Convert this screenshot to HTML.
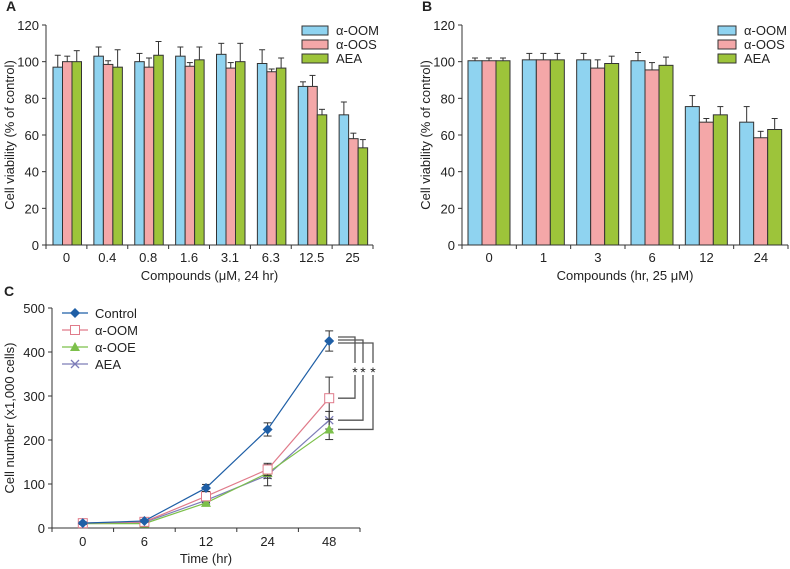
<!DOCTYPE html>
<html><head><meta charset="utf-8"><style>
body{margin:0;background:#fff}
svg{display:block;font-family:"Liberation Sans",Arial,sans-serif}
</style></head><body>
<svg id="s" width="790" height="569"></svg>
<script>
const catsA=["0","0.4","0.8","1.6","3.1","6.3","12.5","25"];
const oomA=[97,103,100,103,104,99,86.5,71];
const oomAErr=[6.5,5,4.5,5,6,7.5,2.5,7];
const oosA=[100,98.5,97,97.5,96.5,94.5,86.5,58];
const oosAErr=[3,2,5,2,3,1.5,6,3];
const aeaA=[100,97,103.5,101,100,96.5,71,53];
const aeaAErr=[6,9.5,7.5,7,10,5.5,3,4.5];
const catsB=["0","1","3","6","12","24"];
const oomB=[100.5,101,101,100.5,75.5,67];
const oomBErr=[1.5,3.5,3.5,4.5,6,8.5];
const oosB=[100.5,101,96.5,95.5,67,58.5];
const oosBErr=[1.5,3.5,4.5,4,2,3.5];
const aeaB=[100.5,101,99,98,71,63];
const aeaBErr=[1.5,3.5,4,4.5,4.5,6];
const ticksAB=[0,20,40,60,80,100,120];
const catsC=["0","6","12","24","48"];
const ctrlC=[11,16,91,224,425];const ctrlCErr=[3,3,8,15,23];
const oomC=[11,14,72,133,295];const oomCErr=[3,3,6,14,48];
const ooeC=[10,10,57,125,224];const ooeCErr=[3,3,5,12,23];
const aeaC=[11,13,63,120,245];const aeaCErr=[3,3,5,24,20];
const ticksC=[0,100,200,300,400,500];

const S=document.getElementById('s');const NS="http://www.w3.org/2000/svg";
function el(t,a,txt){const e=document.createElementNS(NS,t);for(const k in a)e.setAttribute(k,a[k]);if(txt!=null)e.textContent=txt;S.appendChild(e);return e;}
function ln(x1,y1,x2,y2,c,w){return el('line',{x1,y1,x2,y2,stroke:c||'#333','stroke-width':w||1});}
function tx(x,y,s,size,anchor,extra){const e=el('text',Object.assign({x,y,'font-size':size||13,'text-anchor':anchor||'middle',fill:'#222'},extra||{}),s);return e;}
const COL=['#8fd3f0','#f4a7a8','#9dc43a'];
const NAMES=['α-OOM','α-OOS','AEA'];

function barPanel(p){
 const {x0,x1,yTop,yBot,cats,series,errs,label,title,legX,bw,margin}=p;
 const ys=v=>yBot-(v/120)*(yBot-yTop);
 const slot=(x1-x0)/cats.length;
 let a=ln(x0,yTop,x0,yBot);
 a=ln(x0,yBot,x1,yBot);
 ticksAB.forEach(t=>{ln(x0-4,ys(t),x0,ys(t));const e=tx(x0-7,ys(t)+5,String(t),13,'end');});
 for(let i=0;i<=cats.length;i++)ln(x0+i*slot,yBot,x0+i*slot,yBot+4);
 cats.forEach((c,i)=>{
  const gx=x0+i*slot+margin;
  series.forEach((s,j)=>{
   const x=gx+j*bw,y=ys(s[i]);
   const ey=ys(s[i]+errs[j][i]);
   ln(x+bw/2,ey,x+bw/2,y);ln(x+bw/2-3,ey,x+bw/2+3,ey);
   const r=el('rect',{x,y,width:bw,height:yBot-y,fill:COL[j],stroke:'#333','stroke-width':1});
   
   
  });
  const t=tx(x0+(i+0.5)*slot,yBot+17,c,13);
 });
 let t=tx((x0+x1)/2,yBot+35,title,13);
 t=tx(0,0,'Cell viability (% of control)',13,'middle',{transform:`translate(${x0-32},${(yTop+yBot)/2}) rotate(-90)`});
 
 t=tx(x0-40,11,label,14,'start',{'font-weight':'bold'});
 NAMES.forEach((n,j)=>{
  const r=el('rect',{x:legX,y:26+j*14,width:p.legW,height:9,fill:COL[j],stroke:'#333'});
  
  const e=tx(legX+p.legW+8,35+j*14,n,13,'start');
 });
}
barPanel({x0:46,x1:373,yTop:25,yBot:245,cats:catsA,series:[oomA,oosA,aeaA],errs:[oomAErr,oosAErr,aeaAErr],label:'A',title:'Compounds (μM, 24 hr)',legX:302,legW:26,bw:9.5,margin:7});
barPanel({x0:462,x1:788,yTop:25,yBot:245,cats:catsB,series:[oomB,oosB,aeaB],errs:[oomBErr,oosBErr,aeaBErr],label:'B',title:'Compounds (hr, 25 μM)',legX:718,legW:18,bw:14,margin:6});

// Panel C
const cx0=52,cx1=360,cyT=308,cyB=528;
const slotC=(cx1-cx0)/catsC.length;
const xc=i=>cx0+(i+0.5)*slotC, yc=v=>cyB-(v/500)*(cyB-cyT);
let a=ln(cx0,cyT,cx0,cyB);
a=ln(cx0,cyB,cx1,cyB);
ticksC.forEach(t=>{ln(cx0-4,yc(t),cx0,yc(t));const e=tx(cx0-7,yc(t)+5,String(t),13,'end');});
for(let i=0;i<=catsC.length;i++)ln(cx0+i*slotC,cyB,cx0+i*slotC,cyB+4);
catsC.forEach((c,i)=>{const e=tx(xc(i),cyB+18,c,13);});
let t=tx((cx0+cx1)/2,563,'Time (hr)',13);
t=tx(0,0,'Cell number (x1,000 cells)',13,'middle',{transform:`translate(14,${(cyT+cyB)/2}) rotate(-90)`});
t=tx(4,296,'C',14,'start',{'font-weight':'bold'});
const SER=[['Control',ctrlC,ctrlCErr,'#1f5fa6','d'],['α-OOM',oomC,oomCErr,'#e07b8a','s'],['α-OOE',ooeC,ooeCErr,'#7cc04a','t'],['AEA',aeaC,aeaCErr,'#7d7db8','x']];
function marker(x,y,c,m){
 if(m==='d')return el('path',{d:`M${x} ${y-5}L${x+5} ${y}L${x} ${y+5}L${x-5} ${y}Z`,fill:c});
 if(m==='s')return el('rect',{x:x-4.5,y:y-4.5,width:9,height:9,fill:'#fff',stroke:c});
 if(m==='t')return el('path',{d:`M${x} ${y-5}L${x+5} ${y+4}L${x-5} ${y+4}Z`,fill:c});
 return el('path',{d:`M${x-4} ${y-4}L${x+4} ${y+4}M${x-4} ${y+4}L${x+4} ${y-4}`,stroke:c,'stroke-width':1.3});
}
SER.slice().reverse().forEach(([n,v,e,c,m])=>{
 v.forEach((d,i)=>{const y1=yc(d+e[i]),y2=yc(d-e[i]);ln(xc(i),y1,xc(i),y2,'#333');ln(xc(i)-4,y1,xc(i)+4,y1,'#333');ln(xc(i)-4,y2,xc(i)+4,y2,'#333');});
 const p=el('polyline',{points:v.map((d,i)=>xc(i)+','+yc(d)).join(' '),fill:'none',stroke:c,'stroke-width':1.2});
 
 v.forEach((d,i)=>{const mk=marker(xc(i),yc(d),c,m);});
});
SER.forEach(([n,v,e,c,m],j)=>{
 const y=313+j*17;ln(62,y,88,y,c,1.2);marker(75,y,c,m);
 const te=tx(95,y+5,n,13,'start');
});
// significance brackets
const last=catsC.length-1;
[[oomC,355,0],[aeaC,363,3],[ooeC,373,6]].forEach(([s,vx,o])=>{
 const yt=yc(ctrlC[last])-4+o, yb=yc(s[last]);
 const pth=el('path',{d:`M338 ${yt}H${vx}V${yb}H338`,fill:'none',stroke:'#555','stroke-width':1.3});
 
 el('rect',{x:vx-3.5,y:363,width:7,height:12,fill:'#fff'});
 const st=tx(vx,377,'*',14);
});
</script>
</body></html>
